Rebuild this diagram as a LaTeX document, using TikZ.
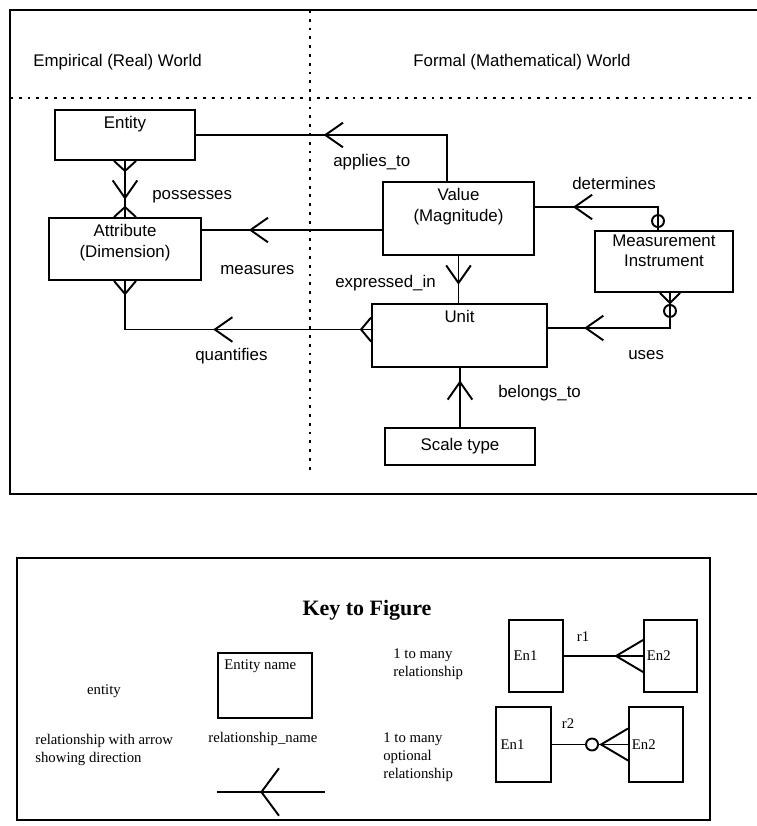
\documentclass[tikz,border=0pt]{standalone}
\usepackage{fontspec}
\setmainfont{Liberation Sans}
\newfontfamily\keyfont{Liberation Serif}
\usetikzlibrary{arrows.meta,decorations.markings}

\tikzset{
	box/.style={draw, line width=1.1pt, inner sep=0pt},
	ttl/.style={anchor=north, align=center, inner sep=4pt},
	conn/.style={line width=1.1pt},
	chev/.style={postaction={decorate}, decoration={markings,
		mark=at position #1 with {\arrow{Straight Barb[length=10pt,width=14pt]}}}},
	bigchev/.style={postaction={decorate}, decoration={markings,
		mark=at position #1 with {\arrow{Straight Barb[length=10pt,width=27pt]}}}},
	rel/.style={anchor=west, inner sep=0pt},
	keytxt/.style={font=\keyfont\fontsize{8.4}{10.4}\selectfont, inner sep=0pt},
	dots/.style={line width=1.2pt, dash pattern=on 1.6pt off 3.4pt},
}

\begin{document}
\begin{tikzpicture}[x=0.02cm, y=-0.02cm, font=\fontsize{9.6}{11.6}\selectfont]
	\useasboundingbox (0,0) rectangle (757,826);
	
	% frame and the two worlds
	\draw[line width=1.3pt] (757,10) -- (10,10) -- (10,494) -- (757,494);
	\draw[dots] (10,98) -- (757,98);
	\draw[dots] (310,10) -- (310,475);
	\node[rel] (emp) at (33,62) {Empirical (Real) World};
	\node[rel] (frm) at (413,62) {Formal (Mathematical) World};
	
	% entities
	\node[box, minimum width=2.8cm, minimum height=1cm, label={[ttl]north:Entity}] (ent) at (125,135) {};
	\node[box, minimum width=3.04cm, minimum height=1.24cm, label={[ttl]north:Attribute\\(Dimension)}] (att) at (125,249) {};
	\node[box, minimum width=3.02cm, minimum height=1.46cm, label={[ttl]north:Value\\(Magnitude)}] (val) at (458.5,218.5) {};
	\node[box, minimum width=2.76cm, minimum height=1.22cm, label={[ttl, inner sep=2.5pt]north:Measurement\\Instrument}] (mi) at (664,261.5) {};
	\node[box, minimum width=3.5cm, minimum height=1.26cm, label={[ttl]north:Unit}] (unit) at (459.5,335.5) {};
	\node[box, minimum width=3cm, minimum height=0.74cm] (scl) at (460,446.5) {Scale type};
	
	% connector end points
	\coordinate (mea) at ([yshift=0.38cm]att.east);
	\coordinate (qua) at ([yshift=0.12cm]unit.west);
	\coordinate (det) at ([yshift=0.23cm]val.east);
	\coordinate (qub) at ([yshift=0.15cm]unit.east);
	\coordinate (mit) at ([xshift=-0.12cm]mi.north);
	\coordinate (mib) at ([xshift=0.12cm]mi.south);
	
	% relationships
	\draw[conn, chev=0.69] (ent.south) -- (att.north);
	\draw[conn, chev=0.57] ([xshift=-0.23cm]val.north) |- (ent.east);
	\draw[conn, chev=0.74] (mea -| val.west) -- (mea);
	\draw[conn, chev=0.536] (qua) -| (att.south);
	\draw[conn, chev=0.61] (val.south) -- (val.south |- unit.north);
	\draw[conn, chev=0.74] (mit) |- (det);
	\draw[conn, chev=0.77] (mib) |- (qub);
	\draw[conn, chev=0.79] (scl.north) -- (scl.north |- unit.south);
	
	% crow's feet and circles
	\draw[conn] ([xshift=-0.22cm]ent.south) -- ++(0.22cm,-0.2cm) -- ++(0.22cm,0.2cm);
	\draw[conn] ([xshift=-0.22cm]att.north) -- ++(0.22cm,0.2cm) -- ++(0.22cm,-0.2cm);
	\draw[conn] ([xshift=-0.22cm]att.south) -- ++(0.22cm,-0.26cm) -- ++(0.22cm,0.26cm);
	\draw[conn] ([yshift=0.24cm]qua) -- ++(-0.2cm,-0.24cm) -- ++(0.2cm,-0.24cm);
	\draw[conn] ([xshift=-0.2cm]mib) -- ++(0.2cm,-0.2cm) -- ++(0.2cm,0.2cm);
	\draw[conn] ([yshift=-0.36cm]mib) circle (0.12cm);
	\draw[conn] ([yshift=0.18cm]mit) circle (0.12cm);
	
	% relationship names
	\node[rel] (lapp) at (333,162) {applies\_to};
	\node[rel] (lpos) at (152,197) {possesses};
	\node[rel] (lmea) at (220,270) {measures};
	\node[rel] (lqua) at (195,356) {quantifies};
	\node[rel] (lexp) at (335,283) {expressed\_in};
	\node[rel] (ldet) at (572,183) {determines};
	\node[rel] (luse) at (628,355) {uses};
	\node[rel] (lbel) at (498,393) {belongs\_to};
	
	% key to figure
	\draw[line width=1.3pt] (17,558) rectangle (710,820);
	\node[keytxt, font=\keyfont\bfseries\fontsize{12.5}{15}\selectfont] (kttl) at (367,610) {Key to Figure};
	\node[keytxt] (kent) at (104,691) {entity};
	\node[keytxt, anchor=west, align=left] (karr) at (35,750) {relationship with arrow\\showing direction};
	\node[box, minimum width=1.88cm, minimum height=1.3cm, label={[keytxt, anchor=north west, inner sep=4pt]north west:Entity name}] (kbox) at (265,685.5) {};
	\node[keytxt, anchor=west] (krel) at (208,739) {relationship\_name};
	\coordinate (kr) at (325,792);
	\coordinate (kl) at (217,792);
	\draw[conn, bigchev=0.6] (kr) -- (kl);
	
	\node[keytxt, anchor=west, align=left] (kone) at (393,664) {1 to many\\relationship};
	\node[keytxt, anchor=west, align=left] (kopt) at (383,757) {1 to many\\optional\\relationship};
	
	\node[box, minimum width=1.08cm, minimum height=1.44cm, label={[keytxt, anchor=west, inner sep=3pt]west:En1}] (ena) at (536,656) {};
	\node[box, minimum width=1.06cm, minimum height=1.44cm, label={[keytxt, anchor=west, inner sep=2pt]west:En2}] (enb) at (670.5,656) {};
	\draw[conn] (ena.east) -- (enb.west);
	\draw[conn] ([yshift=0.32cm]enb.west) -- ++(-0.54cm,-0.32cm) -- ++(0.54cm,-0.32cm);
	\node[keytxt] (rone) at (583,637) {r1};
	
	\node[box, minimum width=1.1cm, minimum height=1.5cm, label={[keytxt, anchor=west, inner sep=3pt]west:En1}] (enc) at (523.5,744.5) {};
	\node[box, minimum width=1.08cm, minimum height=1.5cm, label={[keytxt, anchor=west, inner sep=2pt]west:En2}] (end) at (656,744.5) {};
	\draw[conn] (enc.east) -- (end.west);
	\draw[conn] ([yshift=0.32cm]end.west) -- ++(-0.54cm,-0.32cm) -- ++(0.54cm,-0.32cm);
	\draw[conn, fill=white] ([xshift=-0.72cm]end.west) circle (0.12cm);
	\node[keytxt] (rtwo) at (568,724) {r2};
\end{tikzpicture}
\end{document}
